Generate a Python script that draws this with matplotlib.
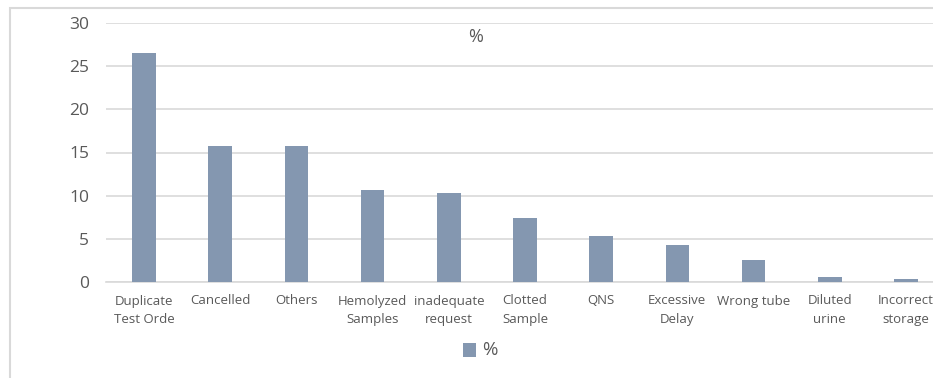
import matplotlib.pyplot as plt
from matplotlib.patches import Rectangle

categories = ["Duplicate\nTest Orde", "Cancelled", "Others", "Hemolyzed\nSamples",
              "inadequate\nrequest", "Clotted\nSample", "QNS", "Excessive\nDelay",
              "Wrong tube", "Diluted\nurine", "Incorrect\nstorage"]
values = [26.5, 15.8, 15.8, 10.6, 10.3, 7.4, 5.3, 4.25, 2.5, 0.6, 0.3]
yticks = [0, 5, 10, 15, 20, 25, 30]

W, H = 933, 378
bar_color = "#8497b0"
text_color = "#595959"
grid_color = "#d9d9d9"

plt.rcParams['font.family'] = ['Open Sans', 'DejaVu Sans']

fig = plt.figure(figsize=(W / 100, H / 100), dpi=100)

# outer chart frame (right/bottom edges fall outside the cropped picture)
fig.patches.append(Rectangle((10 / W, -0.1), 1.2, 1 - 8 / H + 0.1, transform=fig.transFigure,
                             fill=False, edgecolor="#d9d9d9", linewidth=1.5))

# plot area: x from 106 to 944 px, y from 23 to 282 px
ax = fig.add_axes([106 / W, 1 - 282 / H, (944 - 106) / W, (282 - 23) / H])
x = range(len(categories))
ax.bar(x, values, width=0.31, color=bar_color, zorder=3)
ax.set_xlim(-0.5, len(categories) - 0.5)
ax.set_ylim(0, 30)
ax.set_yticks(yticks)
ax.set_xticks(list(x))
ax.set_xticklabels(categories, fontsize=9.5, color=text_color, linespacing=1.55)
ax.tick_params(axis='y', labelsize=12.5, colors=text_color, length=0, pad=12)
ax.tick_params(axis='x', length=0, pad=9)
ax.grid(axis='y', color=grid_color, linewidth=1.2, zorder=0)
for s in ["top", "right", "left"]:
    ax.spines[s].set_visible(False)
ax.spines["bottom"].set_color(grid_color)
ax.spines["bottom"].set_linewidth(1.2)

fig.text(476 / W, 1 - 37 / H, "%", ha="center", va="center", fontsize=13, color=text_color)

# legend
fig.patches.append(Rectangle((463 / W, 1 - 357 / H), 13 / W, 14 / H, transform=fig.transFigure,
                             facecolor=bar_color, edgecolor="none"))
fig.text(482 / W, 1 - 350 / H, "%", ha="left", va="center", fontsize=13.5, color=text_color)

fig.savefig("out.png", dpi=100)
